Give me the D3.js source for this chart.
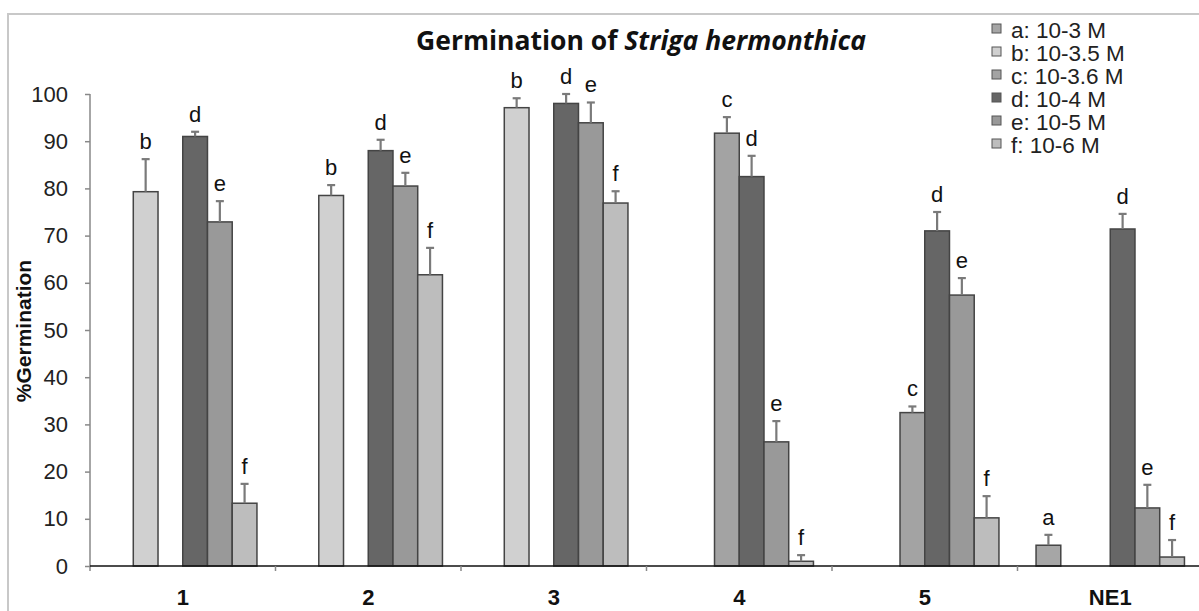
<!DOCTYPE html>
<html>
<head>
  <script src="https://d3js.org/d3.v7.min.js"></script>
  <style>
    body { margin: 0; background: #fff; }
    svg { display: block; }
  </style>
</head>
<body>
  <svg id="chart" width="1199" height="611"></svg>
  <script>
    // treatments on the x axis
    const groups = ["1", "2", "3", "4", "5", "NE1"];
    // concentrations (series) and their legend text
    const series = ["a", "b", "c", "d", "e", "f"];
    const seriesLabels = ["a: 10-3 M", "b: 10-3.5 M", "c: 10-3.6 M", "d: 10-4 M", "e: 10-5 M", "f: 10-6 M"];
    const seriesColors = ["#a6a6a6", "#d0d0d0", "#a3a3a3", "#666666", "#999999", "#bdbdbd"];

    // % germination, one array per series, null = not tested
    const valA = [null, null, null, null, null, 4.4];
    const valB = [79.3, 78.5, 97.1, null, null, null];
    const valC = [null, null, null, 91.7, 32.5, null];
    const valD = [91.0, 88.0, 98.0, 82.5, 71.0, 71.4];
    const valE = [72.9, 80.5, 93.9, 26.3, 57.4, 12.3];
    const valF = [13.3, 61.7, 76.9, 1.0, 10.2, 1.9];

    // standard errors (upper bar only)
    const errA = [null, null, null, null, null, 2.2];
    const errB = [6.9, 2.2, 2.0, null, null, null];
    const errC = [null, null, null, 3.4, 1.3, null];
    const errD = [1.0, 2.3, 2.0, 4.4, 4.0, 3.2];
    const errE = [4.4, 2.8, 4.3, 4.4, 3.6, 4.9];
    const errF = [4.1, 5.7, 2.5, 1.3, 4.6, 3.6];

    const yTicks = [0, 10, 20, 30, 40, 50, 60, 70, 80, 90, 100];

    const values = [valA, valB, valC, valD, valE, valF];
    const errors = [errA, errB, errC, errD, errE, errF];

    // flatten into bar records
    const bars = [];
    series.forEach((s, i) => {
      groups.forEach((g, j) => {
        if (values[i][j] != null) {
          bars.push({ group: g, series: s, idx: i, value: values[i][j], err: errors[i][j] });
        }
      });
    });

    const svg = d3.select("#chart");
    const font = "'Liberation Sans', Arial, sans-serif";

    // outer frame
    svg.append("rect")
      .attr("x", 8).attr("y", 14)
      .attr("width", 1300).attr("height", 700)
      .attr("fill", "none")
      .attr("stroke", "#c8c8c8")
      .attr("stroke-width", 2);

    const x0 = d3.scaleBand().domain(groups).range([90, 1203]).padding(0);
    const x1 = d3.scaleBand().domain(series).range([0, x0.bandwidth()])
      .paddingInner(0).paddingOuter(0.75);
    const y = d3.scaleLinear().domain([0, 100]).range([566, 94]);

    // title
    const title = svg.append("text")
      .attr("x", 641).attr("y", 50)
      .attr("text-anchor", "middle")
      .style("font-family", "'Open Sans', sans-serif")
      .style("font-weight", "bold")
      .style("font-size", "26.5px")
      .attr("fill", "#111");
    title.append("tspan").text("Germination of ");
    title.append("tspan").style("font-style", "italic").text("Striga hermonthica");

    // y axis
    const yAxis = svg.append("g")
      .attr("transform", "translate(90,0)")
      .call(d3.axisLeft(y).tickValues(yTicks).tickSize(5).tickPadding(17));
    yAxis.select(".domain").attr("stroke", "#888").attr("stroke-width", 1.5)
      .attr("d", `M0,${y(0) + 5}V${y(100)}`);
    yAxis.selectAll(".tick line").attr("stroke", "#888").attr("stroke-width", 1.5);
    yAxis.selectAll(".tick text")
      .style("font-family", font).style("font-size", "22px").attr("fill", "#222");

    svg.append("text")
      .attr("transform", `translate(31,331) rotate(-90)`)
      .attr("text-anchor", "middle")
      .style("font-family", font).style("font-weight", "bold").style("font-size", "21px")
      .attr("fill", "#111")
      .text("%Germination");

    // bars
    svg.append("g")
      .selectAll("rect")
      .data(bars)
      .join("rect")
        .attr("x", d => x0(d.group) + x1(d.series))
        .attr("y", d => y(d.value))
        .attr("width", x1.bandwidth())
        .attr("height", d => y(0) - y(d.value))
        .attr("fill", d => seriesColors[d.idx])
        .attr("stroke", "#444")
        .attr("stroke-width", 1.5);

    // error bars
    const eb = svg.append("g").attr("stroke", "#7a7a7a").attr("stroke-width", 2.2);
    eb.selectAll("line.v")
      .data(bars)
      .join("line")
        .attr("class", "v")
        .attr("x1", d => x0(d.group) + x1(d.series) + x1.bandwidth() / 2)
        .attr("x2", d => x0(d.group) + x1(d.series) + x1.bandwidth() / 2)
        .attr("y1", d => y(d.value))
        .attr("y2", d => y(d.value + d.err));
    eb.selectAll("line.cap")
      .data(bars)
      .join("line")
        .attr("class", "cap")
        .attr("x1", d => x0(d.group) + x1(d.series) + x1.bandwidth() / 2 - 4)
        .attr("x2", d => x0(d.group) + x1(d.series) + x1.bandwidth() / 2 + 4)
        .attr("y1", d => y(d.value + d.err))
        .attr("y2", d => y(d.value + d.err));

    // significance letters
    svg.append("g")
      .selectAll("text")
      .data(bars)
      .join("text")
        .attr("x", d => x0(d.group) + x1(d.series) + x1.bandwidth() / 2)
        .attr("y", d => y(d.value + d.err) - 10)
        .attr("text-anchor", "middle")
        .style("font-family", font).style("font-size", "22px")
        .attr("fill", "#111")
        .text(d => d.series);

    // x axis
    svg.append("line")
      .attr("x1", 90).attr("x2", 1199)
      .attr("y1", y(0)).attr("y2", y(0))
      .attr("stroke", "#111").attr("stroke-width", 1.5);
    svg.append("g")
      .selectAll("line")
      .data(groups.slice(1))
      .join("line")
        .attr("x1", d => x0(d)).attr("x2", d => x0(d))
        .attr("y1", y(0)).attr("y2", y(0) + 5)
        .attr("stroke", "#888").attr("stroke-width", 1.5);
    svg.append("g")
      .selectAll("text")
      .data(groups)
      .join("text")
        .attr("x", d => x0(d) + x0.bandwidth() / 2)
        .attr("y", 605)
        .attr("text-anchor", "middle")
        .style("font-family", font).style("font-weight", "bold").style("font-size", "22px")
        .attr("fill", "#111")
        .text(d => d);

    // legend
    const legend = svg.append("g")
      .selectAll("g")
      .data(series)
      .join("g")
        .attr("transform", (d, i) => `translate(992,${30 + i * 23})`);
    legend.append("rect")
      .attr("x", 0).attr("y", -6)
      .attr("width", 9).attr("height", 9)
      .attr("fill", (d, i) => seriesColors[i])
      .attr("stroke", "#555").attr("stroke-width", 1);
    legend.append("text")
      .attr("x", 19).attr("y", 8)
      .style("font-family", font).style("font-size", "22.5px")
      .attr("fill", "#222")
      .text((d, i) => seriesLabels[i]);
  </script>
</body>
</html>
